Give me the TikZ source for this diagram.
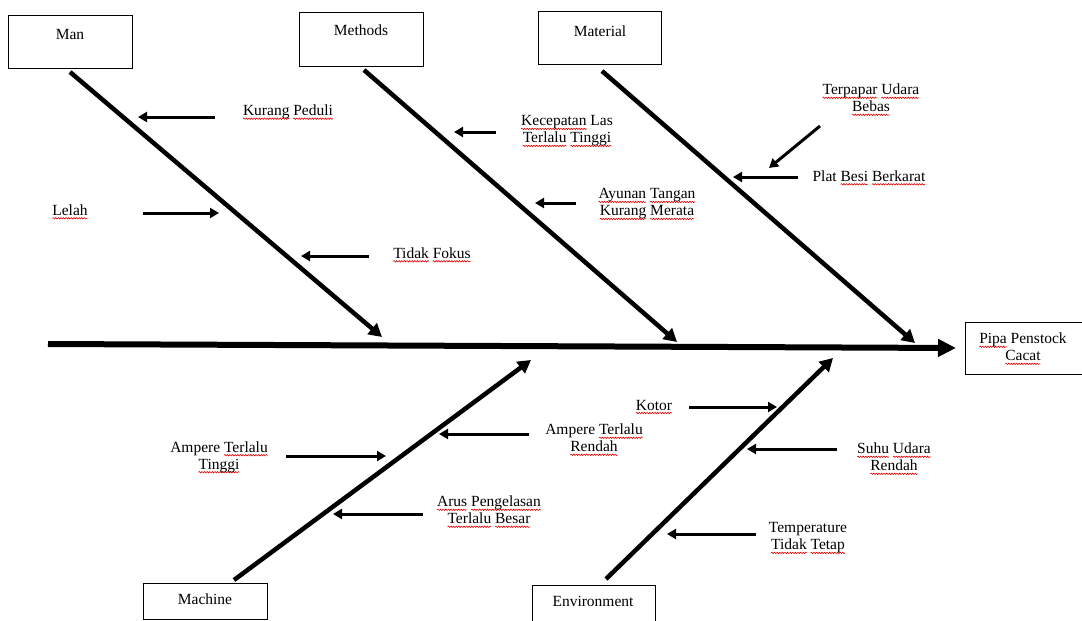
\documentclass[tikz,border=0pt]{standalone}
\usepackage{fontspec}
\setmainfont{Liberation Serif}
\usetikzlibrary{arrows.meta,decorations.pathmorphing}
\newsavebox\sqbox
\newcommand\sq[1]{\sbox\sqbox{#1}\rlap{\tikz[overlay,baseline=0pt,x=1pt,y=1pt]\draw[red!90!black,line width=0.6pt,decorate,decoration={snake,amplitude=0.7pt,segment length=2.6pt}] (0,-3) -- (\the\wd\sqbox,-3);}\usebox\sqbox}
\tikzset{
  catbox/.style={draw, line width=0.8pt, minimum width=#1, inner sep=0pt},
  lbl/.style={inner sep=0pt, align=center, font=\fontsize{15.5}{17}\selectfont},
  bone/.style={line width=4.5pt, -{Triangle[length=13pt,width=14pt]}},
  sub/.style={line width=3pt, -{Triangle[length=9pt,width=10pt]}},
  spine/.style={line width=6pt, -{Triangle[length=18pt,width=17pt]}},
}
\begin{document}
\begin{tikzpicture}[x=1pt,y=-1pt]
\useasboundingbox (0,0) rectangle (1082,621);
% category boxes
\node[catbox=124pt, minimum height=53pt, anchor=north west] (manbox) at (8,15) {};
\node[catbox=124pt, minimum height=54pt, anchor=north west] (metbox) at (299,12) {};
\node[catbox=123pt, minimum height=53pt, anchor=north west] (matbox) at (538,11) {};
\node[catbox=124pt, minimum height=36pt, anchor=north west] (macbox) at (143,583) {};
\node[catbox=123pt, minimum height=40pt, anchor=north west] (envbox) at (532,585) {};
\node[catbox=117pt, minimum height=52pt, anchor=north west] (effbox) at (965,322) {};
\node[lbl] (mant) at (70,35) {Man};
\node[lbl] (mett) at (361,30) {Methods};
\node[lbl] (matt) at (600,31) {Material};
\node[lbl] (mact) at (205,599) {Machine};
\node[lbl] (envt) at (593,601) {Environment};
\node[lbl] (efft) at (1023,347) {\sq{Pipa} Penstock\\\sq{Cacat}};
% spine
\coordinate (sp0) at (48,344);
\coordinate (sp1) at (956,348);
\draw[spine] (sp0) -- (sp1);
% bones
\coordinate (manA) at (70,72);   \coordinate (manB) at (382,337);
\coordinate (metA) at (364,70);  \coordinate (metB) at (677,342);
\coordinate (matA) at (602,71);  \coordinate (matB) at (915,343);
\coordinate (macA) at (234,580); \coordinate (macB) at (531,360);
\coordinate (envA) at (606,579); \coordinate (envB) at (833,358);
\draw[bone] (manA) -- (manB);
\draw[bone] (metA) -- (metB);
\draw[bone] (matA) -- (matB);
\draw[bone] (macA) -- (macB);
\draw[bone] (envA) -- (envB);
% cause labels
\node[lbl] (c1) at (288,112) {\sq{Kurang} \sq{Peduli}};
\node[lbl] (c2) at (70,210) {\sq{Lelah}};
\node[lbl] (c3) at (432,253) {\sq{Tidak} \sq{Fokus}};
\node[lbl] (c4) at (567,131) {\sq{Kecepatan} Las\\\sq{Terlalu} \sq{Tinggi}};
\node[lbl] (c5) at (647,204) {\sq{Ayunan} \sq{Tangan}\\\sq{Kurang} \sq{Merata}};
\node[lbl] (c6) at (871,98) {\sq{Terpapar} \sq{Udara}\\\sq{Bebas}};
\node[lbl] (c7) at (869,176) {Plat \sq{Besi} \sq{Berkarat}};
\node[lbl] (c8) at (219,457) {Ampere \sq{Terlalu}\\\sq{Tinggi}};
\node[lbl] (c9) at (594,438) {Ampere \sq{Terlalu}\\\sq{Rendah}};
\node[lbl] (c10) at (489,510) {\sq{Arus} \sq{Pengelasan}\\\sq{Terlalu} \sq{Besar}};
\node[lbl] (c11) at (654,405) {\sq{Kotor}};
\node[lbl] (c12) at (894,457) {\sq{Suhu} \sq{Udara}\\\sq{Rendah}};
\node[lbl] (c13) at (808,538) {Temperature\\\sq{Tidak} \sq{Tetap}};
% sub arrows
\coordinate (a1s) at (215,117); \coordinate (a1e) at (138,117);
\coordinate (a2s) at (143,213); \coordinate (a2e) at (219,213);
\coordinate (a3s) at (369,256); \coordinate (a3e) at (301,256);
\coordinate (a4s) at (496,132); \coordinate (a4e) at (454,132);
\coordinate (a5s) at (576,203); \coordinate (a5e) at (535,203);
\coordinate (a6s) at (820,126); \coordinate (a6e) at (769,168);
\coordinate (a7s) at (798,177); \coordinate (a7e) at (733,177);
\coordinate (a8s) at (286,456); \coordinate (a8e) at (386,456);
\coordinate (a9s) at (529,434); \coordinate (a9e) at (439,434);
\coordinate (a10s) at (423,514); \coordinate (a10e) at (333,514);
\coordinate (a11s) at (689,407); \coordinate (a11e) at (777,407);
\coordinate (a12s) at (837,449); \coordinate (a12e) at (747,449);
\coordinate (a13s) at (756,534); \coordinate (a13e) at (667,534);
\foreach \i in {1,...,13} {\draw[sub] (a\i s) -- (a\i e);}
\end{tikzpicture}
\end{document}
